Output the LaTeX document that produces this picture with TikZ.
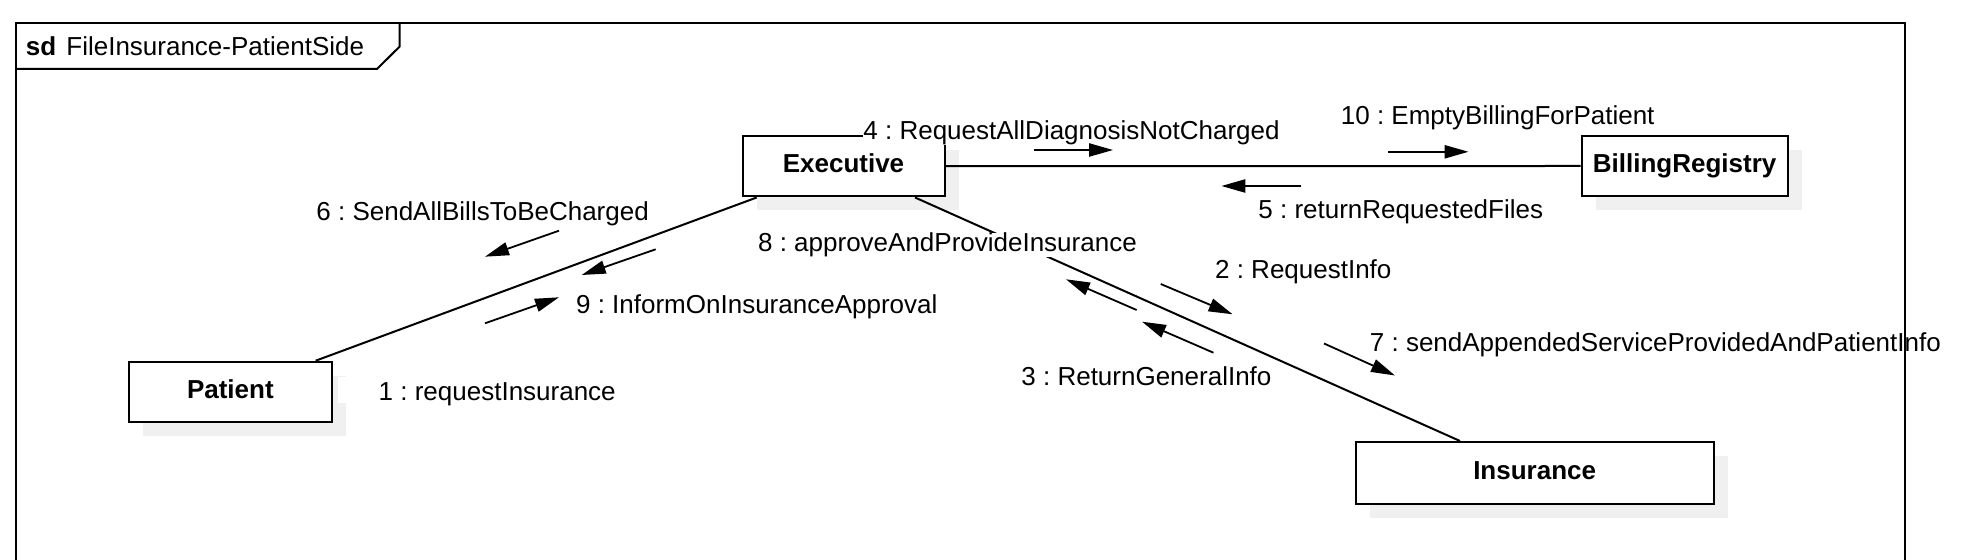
\documentclass[tikz,border=0pt]{standalone}
\usepackage{fontspec}
\setmainfont{Liberation Sans}
\usetikzlibrary{arrows.meta,shadows}
\frenchspacing
\tikzset{
  txt/.style={font=\fontsize{13pt}{15.6pt}\selectfont},
  lbl/.style={txt, inner sep=0pt, anchor=base west},
  obj/.style={txt, font=\fontsize{13pt}{15.6pt}\selectfont\bfseries, draw=black, line width=1pt, fill=white, inner sep=0pt,
     text height=0.75em, text depth=0.11em,
     drop shadow={shadow xshift=7pt, shadow yshift=-7pt, fill=black!6, opacity=1}},
  link/.style={line width=1pt, draw=black},
  msg/.style={line width=0.9pt, draw=black, -{Triangle[length=12pt,width=6.6pt]}},
  framestyle/.style={line width=1pt, draw=black}
}
\begin{document}
\begin{tikzpicture}[x=0.5pt, y=-0.5pt]
\useasboundingbox (0,0) rectangle (1969,560);

% objects
\node[obj, minimum width=101pt, minimum height=30.4pt] (exec) at (843.5,166.1) {Executive};
\node[obj, minimum width=103pt, minimum height=30.35pt] (bill) at (1684.6,166) {BillingRegistry};
\node[obj, minimum width=179.15pt, minimum height=30.8pt] (ins) at (1534.65,472.8) {Insurance};
\node[obj, minimum width=101.35pt, minimum height=30.3pt] (pat) at (230.35,392) {Patient};

% links
\draw[link] (exec.east) -- (bill.west);
\draw[link] ([xshift=7.6pt]exec.south west) -- ([xshift=93.85pt]pat.north west);
\draw[link] ([xshift=86.75pt]exec.south west) -- ([xshift=52.75pt]ins.north west);

% labels
\node[lbl, fill=white] (l4) at (863,139.3) {4 : RequestAllDiagnosisNotCharged};
\node[lbl] (l10) at (1340.5,125) {10 : EmptyBillingForPatient};
\node[lbl] (l5) at (1258,218.4) {5 : returnRequestedFiles};
\node[lbl] (l6) at (316,220.7) {6 : SendAllBillsToBeCharged};
\node[lbl, fill=white] (l8) at (757.7,251.7) {8 : approveAndProvideInsurance};
\node[lbl] (l2) at (1214.7,278.3) {2 : RequestInfo};
\node[lbl] (l9) at (575.7,313.3) {9 : InformOnInsuranceApproval};
\node[lbl] (l7) at (1369.5,351.8) {7 : sendAppendedServiceProvidedAndPatientInfo};
\node[lbl] (l3) at (1021,385.3) {3 : ReturnGeneralInfo};
\fill[white] (338.3,376.7) rectangle (378.3,403.3);
\node[lbl, fill=white] (l1) at (378.3,400.7) {1 : requestInsurance};

% message arrows
\coordinate (a4s) at (1034,150);   \coordinate (a4e) at (1113,150);
\coordinate (a10s) at (1388.3,151.8); \coordinate (a10e) at (1468.5,151.8);
\coordinate (a5s) at (1300.5,186); \coordinate (a5e) at (1221.4,186);
\coordinate (a6s) at (559,230.7);  \coordinate (a6e) at (485,256.7);
\coordinate (a9s) at (655.7,249.3); \coordinate (a9e) at (581.7,275);
\coordinate (a1s) at (485,323.3);  \coordinate (a1e) at (559,297.3);
\coordinate (a2s) at (1160.7,284); \coordinate (a2e) at (1232.6,314.3);
\coordinate (a8s) at (1136.6,310); \coordinate (a8e) at (1066,279.3);
\coordinate (a3s) at (1213.4,352.7); \coordinate (a3e) at (1142,321.7);
\coordinate (a7s) at (1324,343.5); \coordinate (a7e) at (1395,375.5);
\draw[msg] (a4s) -- (a4e);
\draw[msg] (a10s) -- (a10e);
\draw[msg] (a5s) -- (a5e);
\draw[msg] (a6s) -- (a6e);
\draw[msg] (a9s) -- (a9e);
\draw[msg] (a1s) -- (a1e);
\draw[msg] (a2s) -- (a2e);
\draw[msg] (a8s) -- (a8e);
\draw[msg] (a3s) -- (a3e);
\draw[msg] (a7s) -- (a7e);

% frame
\draw[framestyle] (16,620) -- (16,23) -- (1904.5,23) -- (1904.5,620);
\draw[framestyle] (16,69) -- (377,69) -- (399.5,46.7) -- (399.5,23);
\node[lbl, font=\fontsize{13pt}{15.6pt}\selectfont\bfseries] (sd) at (25.4,56) {sd};
\node[lbl] (title) at (66,56) {FileInsurance-PatientSide};
\end{tikzpicture}
\end{document}
